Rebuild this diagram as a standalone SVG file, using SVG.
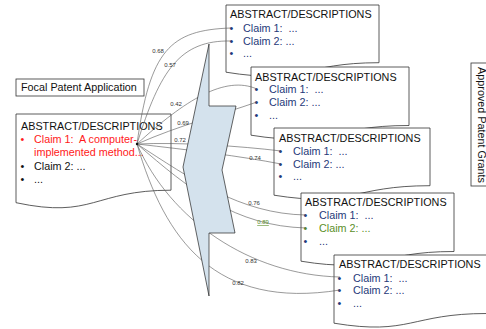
<svg xmlns="http://www.w3.org/2000/svg" width="486" height="329" viewBox="0 0 486 329">
<style>
text{font-family:"Liberation Sans",Arial,sans-serif;font-size:10.8px;white-space:pre}
.box{fill:#fff;stroke:#333;stroke-width:0.8}
.n{fill:#1f3a7a}
.r{fill:#ff1a1a}
.g{fill:#5b8f2a}
.k{fill:#111}
.lbl{font-size:6px;fill:#333;text-anchor:middle}
.c{fill:none;stroke:#555;stroke-width:0.6}
</style>
<g id="focal-label"><rect class="box" x="16" y="79" width="128" height="17"/><text class="k" x="21" y="91">Focal Patent Application</text></g>
<g id="approved-label"><rect class="box" x="471" y="63" width="20" height="123"/><text class="k" transform="translate(477.5,125) rotate(90)" text-anchor="middle">Approved Patent Grants</text></g>
<g id="focal">
<path class="box" d="M16,114H171V190.2C93.5,190.2 93.5,219.2 16,202.7Z"/>
<text class="k" x="21" y="130">ABSTRACT/DESCRIPTIONS</text>
<text class="r" x="20.5" y="143">•</text><text class="r" x="34" y="143">Claim 1:  A computer-</text>
<text class="r" x="34" y="156">implemented method...</text>
<text class="k" x="20.5" y="170">•</text><text class="k" x="34" y="170">Claim 2: ...</text>
<text class="k" x="20.5" y="183">•</text><text class="k" x="34" y="183">...</text>
</g>
<g id="grant1">
<path class="box" d="M226,5H379V62.7C302.5,62.7 302.5,84.7 226,72.2Z"/>
<text class="k" x="230" y="18">ABSTRACT/DESCRIPTIONS</text>
<text class="n" x="229.5" y="32">•</text><text class="n" x="243" y="32">Claim 1:  ...</text>
<text class="n" x="229.5" y="44.5">•</text><text class="n" x="243" y="44.5">Claim 2: ...</text>
<text class="n" x="229.5" y="57">•</text><text class="n" x="243" y="57">...</text>
</g>
<g id="grant2">
<path class="box" d="M251,67H409V125.5C330,125.5 330,147.8 251,135.2Z"/>
<text class="k" x="255" y="80.7">ABSTRACT/DESCRIPTIONS</text>
<text class="n" x="254.5" y="93">•</text><text class="n" x="269" y="93">Claim 1:  ...</text>
<text class="n" x="254.5" y="106">•</text><text class="n" x="269" y="106">Claim 2: ...</text>
<text class="n" x="254.5" y="119">•</text><text class="n" x="269" y="119">...</text>
</g>
<g id="grant3">
<path class="box" d="M274,128H430V185.7C352,185.7 352,207.7 274,195.2Z"/>
<text class="k" x="279" y="142">ABSTRACT/DESCRIPTIONS</text>
<text class="n" x="278.5" y="155">•</text><text class="n" x="293" y="155">Claim 1:  ...</text>
<text class="n" x="278.5" y="167.5">•</text><text class="n" x="293" y="167.5">Claim 2: ...</text>
<text class="n" x="278.5" y="180">•</text><text class="n" x="293" y="180">...</text>
</g>
<g id="grant4">
<path class="box" d="M301,193H454V251.5C377.5,251.5 377.5,273.8 301,261.2Z"/>
<text class="k" x="305" y="206">ABSTRACT/DESCRIPTIONS</text>
<text class="n" x="303.5" y="219">•</text><text class="n" x="319" y="219">Claim 1:  ...</text>
<text class="g" x="303.5" y="232">•</text><text class="g" x="319" y="232">Claim 2: ...</text>
<text class="n" x="303.5" y="245">•</text><text class="n" x="319" y="245">...</text>
</g>
<g id="grant5">
<path class="box" d="M334,255H487V313.5C410.5,313.5 410.5,335.8 334,323.2Z"/>
<text class="k" x="339" y="268">ABSTRACT/DESCRIPTIONS</text>
<text class="n" x="337.5" y="281.5">•</text><text class="n" x="353" y="281.5">Claim 1:  ...</text>
<text class="n" x="337.5" y="294">•</text><text class="n" x="353" y="294">Claim 2: ...</text>
<text class="n" x="337.5" y="307">•</text><text class="n" x="353" y="307">...</text>
</g>
<g id="connectors">
<path class="c" d="M137,144C150,50 170,30 231,28"/>
<path class="c" d="M137,144C160,70 180,40 231,41"/>
<path class="c" d="M137,144C185,100 225,75 257,89"/>
<path class="c" d="M137,144C180,125 220,115 257,102"/>
<path class="c" d="M137,144C180,142 240,146 281,151"/>
<path class="c" d="M137,144C190,150 240,156 281,164"/>
<path class="c" d="M137,144C190,178 240,214 306,215"/>
<path class="c" d="M137,144C190,190 235,226 306,228"/>
<path class="c" d="M137,144C170,220 250,275 340,277"/>
<path class="c" d="M137,144C165,240 215,310 340,290"/>
<circle cx="137" cy="144" r="1.2" fill="#111"/>
<text class="lbl" x="158" y="53">0.68</text>
<text class="lbl" x="170" y="67">0.57</text>
<text class="lbl" x="176" y="106">0.42</text>
<text class="lbl" x="183" y="125">0.69</text>
<text class="lbl" x="180" y="142">0.72</text>
<text class="lbl" x="255" y="160">0.74</text>
<text class="lbl" x="254" y="205">0.76</text>
<text class="lbl" x="263" y="224" style="fill:#5b8f2a" text-decoration="underline">0.89</text>
<text class="lbl" x="251" y="263">0.83</text>
<text class="lbl" x="238" y="285">0.82</text>
</g>
<g id="bolt"><polygon points="209,44 209,106 236,106 222,170 235,233 209,233 209,296 183,167" fill="#d4e2ed" stroke="#222" stroke-width="0.7"/></g>
</svg>
